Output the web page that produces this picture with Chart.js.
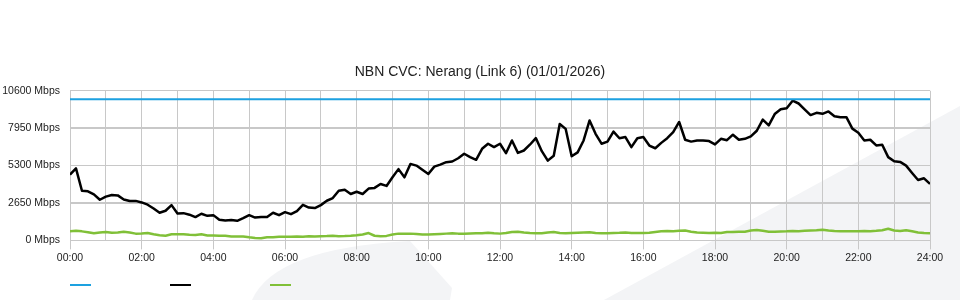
<!DOCTYPE html>
<html>
<head>
<meta charset="utf-8">
<script src="https://cdn.jsdelivr.net/npm/chart.js@4.4.1/dist/chart.umd.min.js"></script>
<style>
  html, body { margin: 0; padding: 0; background: #fff; }
  #wrap { width: 960px; height: 300px; }
</style>
</head>
<body>
<div id="wrap"><canvas id="cvc"></canvas></div>
<script>
// --- data (one sample every 10 minutes) ---
const chartTitle = 'NBN CVC: Nerang (Link 6) (01/01/2026)';
const stepMinutes = 10;
const cvcCapacity = 10000;
const yTicks = [0, 2650, 5300, 7950, 10600];
const hourRange = [0, 24];

const trafficIn = [
  4660, 5100, 3520, 3480, 3260, 2880, 3100, 3220, 3190, 2900, 2790, 2800,
  2690, 2530, 2260, 1960, 2100, 2500, 1910, 1930, 1820, 1650, 1890, 1740,
  1790, 1460, 1410, 1440, 1390, 1580, 1790, 1620, 1650, 1650, 1960, 1790,
  2000, 1860, 2080, 2520, 2330, 2290, 2500, 2810, 3000, 3520, 3590, 3290,
  3450, 3290, 3670, 3720, 4000, 3860, 4470, 5050, 4470, 5420, 5300, 5000,
  4710, 5230, 5370, 5540, 5590, 5820, 6140, 5900, 5710, 6490, 6850, 6610,
  6850, 6180, 7080, 6200, 6370, 6780, 7250, 6320, 5650, 6000, 8250, 7900,
  5960, 6240, 7080, 8500, 7550, 6850, 7000, 7710, 7240, 7320, 6610, 7240,
  7320, 6720, 6530, 6910, 7240, 7670, 8390, 7130, 7000, 7080, 7080, 7040,
  6800, 7200, 7100, 7490, 7130, 7200, 7370, 7770, 8560, 8150, 8950, 9290,
  9370, 9900, 9700, 9290, 8880, 9040, 8970, 9140, 8800, 8730, 8730, 7920,
  7630, 7080, 7130, 6730, 6780, 5900, 5610, 5560, 5300, 4780, 4280, 4400,
  4000
];

const trafficOut = [
  650, 680, 640, 580, 500, 560, 600, 540, 560, 610, 560, 480,
  490, 520, 430, 370, 330, 430, 430, 440, 400, 380, 430, 350,
  350, 330, 330, 280, 270, 280, 220, 170, 150, 230, 230, 250,
  260, 260, 280, 260, 290, 280, 300, 310, 330, 300, 310, 330,
  360, 420, 520, 330, 300, 320, 420, 480, 480, 480, 460, 420,
  420, 440, 460, 480, 500, 480, 470, 490, 500, 500, 550, 500,
  480, 520, 600, 620, 560, 520, 500, 510, 560, 600, 520, 500,
  520, 540, 560, 570, 530, 500, 510, 530, 540, 560, 530, 520,
  530, 540, 600, 640, 660, 650, 680, 700, 620, 560, 550, 530,
  540, 520, 600, 600, 620, 620, 700, 740, 680, 620, 620, 630,
  640, 660, 650, 680, 700, 720, 760, 700, 660, 650, 640, 640,
  650, 660, 650, 680, 720, 820, 700, 660, 720, 650, 560, 520,
  500
];

const toPoints = arr => arr.map((v, i) => ({ x: i * stepMinutes / 60, y: v }));
const fontFamily = '"Liberation Sans", Arial, sans-serif';
const gridGrey = '#c8c8c8';

// faint grey swooshes behind the graph
const watermark = {
  id: 'watermark',
  beforeDraw(chart) {
    const c = chart.ctx;
    c.save();
    c.fillStyle = '#fff';
    c.fillRect(0, 0, chart.width, chart.height);
    c.fillStyle = '#f3f4f6';
    c.beginPath();
    c.moveTo(252, 300);
    c.quadraticCurveTo(275, 248, 410, 241);
    c.lineTo(452, 288);
    c.lineTo(450, 300);
    c.closePath();
    c.fill();
    c.beginPath();
    c.moveTo(604, 300);
    c.lineTo(960, 106);
    c.lineTo(960, 300);
    c.closePath();
    c.fill();
    c.restore();
  }
};

// legend: just coloured strokes, no text
const lineLegend = {
  id: 'lineLegend',
  afterDraw(chart) {
    const c = chart.ctx;
    c.save();
    chart.data.datasets.forEach((ds, i) => {
      c.strokeStyle = ds.borderColor;
      c.lineWidth = 2;
      c.beginPath();
      c.moveTo(70 + i * 100, 285);
      c.lineTo(91 + i * 100, 285);
      c.stroke();
    });
    c.restore();
  }
};

new Chart(document.getElementById('cvc'), {
  type: 'line',
  data: {
    datasets: [
      {
        data: hourRange.map(h => ({ x: h, y: cvcCapacity })),
        borderColor: '#1da1e0',
        borderWidth: 2
      },
      {
        data: toPoints(trafficIn),
        borderColor: '#000000',
        borderWidth: 2.5
      },
      {
        data: toPoints(trafficOut),
        borderColor: '#80c038',
        borderWidth: 2.5
      }
    ]
  },
  options: {
    responsive: true,
    maintainAspectRatio: false,
    animation: false,
    parsing: false,
    elements: { point: { radius: 0 }, line: { tension: 0, borderJoinStyle: 'round' } },
    layout: { padding: { top: 64, right: 0, bottom: 34, left: 0 } },
    plugins: {
      legend: { display: false },
      tooltip: { enabled: false },
      title: {
        display: true,
        text: chartTitle,
        color: '#222',
        font: { family: fontFamily, size: 14, weight: 'normal' },
        padding: { top: 0, bottom: 10 }
      }
    },
    scales: {
      x: {
        type: 'linear',
        min: hourRange[0],
        max: hourRange[1],
        ticks: {
          stepSize: 1,
          autoSkip: false,
          maxRotation: 0,
          padding: 2,
          color: '#222',
          font: { family: fontFamily, size: 10.5 },
          callback: v => v % 2 === 0 ? String(v).padStart(2, '0') + ':00' : ''
        },
        grid: {
          color: gridGrey,
          tickLength: 9,
          tickColor: ctx => (ctx.tick && ctx.tick.value % 2 === 0) ? gridGrey : 'rgba(0,0,0,0)'
        },
        border: { color: gridGrey }
      },
      y: {
        min: yTicks[0],
        max: yTicks[yTicks.length - 1],
        afterBuildTicks: axis => { axis.ticks = yTicks.map(v => ({ value: v })); },
        afterFit: axis => { axis.width = 70; },
        ticks: {
          padding: 10,
          color: '#222',
          font: { family: fontFamily, size: 10.5 },
          callback: v => v + ' Mbps'
        },
        grid: {
          color: gridGrey,
          drawTicks: false,
          lineWidth: ctx => (ctx.index % 2 === 1 ? 2 : 1)
        },
        border: { color: gridGrey }
      },
      // empty right-hand gutter so the title stays centred on the page
      gutter: {
        position: 'right',
        min: 0,
        max: 1,
        ticks: { display: false },
        grid: { display: false },
        border: { display: false },
        afterFit: axis => { axis.width = 30; }
      }
    }
  },
  plugins: [watermark, lineLegend]
});
</script>
</body>
</html>
